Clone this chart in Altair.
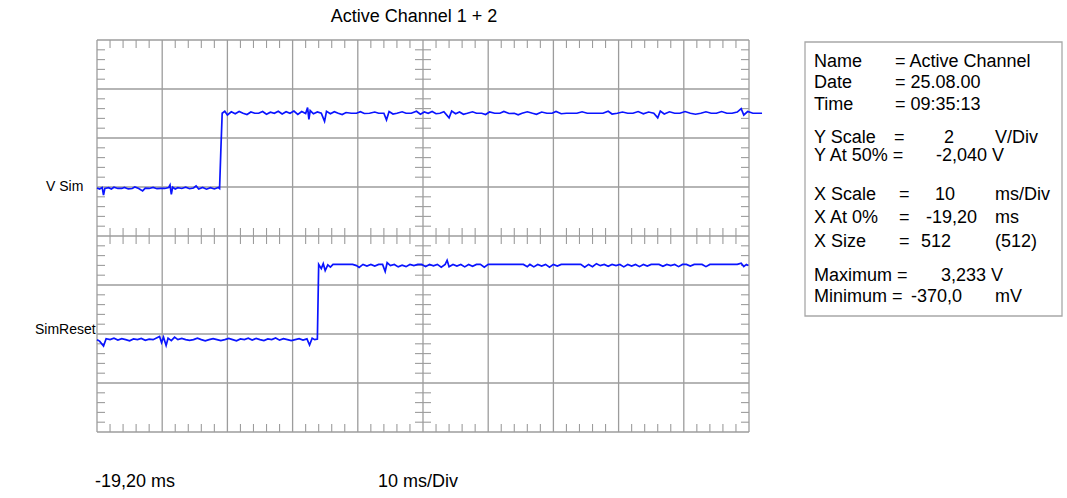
import altair as alt
import pandas as pd

# ---- scope settings -------------------------------------------------------
X_AT_0 = -19.2      # ms at left edge of screen
X_SCALE = 10.0      # ms / div
X_DIVS = 10
Y_SCALE = 2.0       # V / div
Y_DIVS = 8
MINOR = 5           # minor ticks per division

# volts shown at the screen centre line, per channel
channel_centre = {"V Sim": -2.04, "SimReset": 4.23}

# ---- channel 1: V Sim (time in ms, value in V) ------------------------------
t_vsim = [
    -19.2, -18.8, -18.4, -18.2, -18.0, -17.4, -17.0, -16.6, -16.0, -15.4,
    -15.0, -14.4, -13.8, -13.4, -12.8, -12.2, -11.8, -11.2, -10.6, -10.0,
    -9.4, -8.8, -8.2, -8.0, -7.8, -7.6, -7.2, -6.8, -6.2, -5.6,
    -5.0, -4.4, -4.0, -3.6, -3.0, -2.4, -1.8, -1.2, -0.6, -0.4,
    -0.2, 0.0, 0.4, 0.8, 1.4, 2.0, 2.6, 3.2, 3.8, 4.4,
    5.0, 5.6, 6.2, 6.8, 7.4, 8.0, 8.6, 9.2, 9.8, 10.4,
    11.0, 11.6, 12.2, 12.8, 13.1, 13.3, 13.5, 14.0, 14.6, 15.2,
    15.7, 16.0, 16.6, 17.2, 17.8, 18.4, 19.0, 19.8, 20.6, 21.2,
    21.8, 22.6, 23.4, 24.0, 24.8, 25.2, 25.6, 26.2, 26.8, 27.6,
    28.2, 29.0, 29.8, 30.4, 31.0, 31.6, 32.2, 32.8, 33.4, 34.0,
    34.8, 35.2, 35.8, 36.4, 37.0, 37.6, 38.4, 39.0, 39.8, 40.4,
    41.0, 41.8, 42.6, 43.2, 44.0, 44.8, 45.4, 46.0, 46.8, 47.6,
    48.2, 49.0, 49.8, 50.6, 51.2, 52.0, 52.8, 53.6, 54.4, 55.2,
    56.0, 56.8, 57.6, 58.4, 59.2, 59.8, 60.6, 61.4, 62.2, 63.0,
    63.8, 64.6, 65.4, 66.2, 66.8, 67.2, 67.8, 68.6, 69.4, 70.2,
    71.0, 71.8, 72.6, 73.4, 74.2, 75.0, 75.8, 76.6, 77.4, 78.2,
    79.0, 79.6, 80.0, 80.6, 81.4, 82.2, 82.8,
]
v_vsim = [
    -0.08, -0.12, -0.06, -0.37, -0.10, -0.07, -0.12, -0.05, -0.10, -0.10,
    -0.06, -0.12, -0.10, -0.04, -0.10, -0.20, -0.09, -0.10, -0.06, -0.11,
    -0.10, -0.10, -0.06, 0.04, -0.34, -0.05, -0.12, -0.07, -0.10, -0.05,
    -0.11, -0.08, 0.00, -0.12, -0.06, -0.13, -0.07, -0.12, -0.06, -0.10,
    1.49, 2.97, 3.05, 2.90, 3.03, 2.95, 3.04, 2.97, 2.92, 3.02,
    2.97, 2.97, 3.04, 2.93, 3.01, 2.97, 3.05, 2.94, 3.03, 2.97,
    3.06, 2.92, 3.04, 2.96, 3.20, 2.72, 3.08, 2.95, 3.02, 2.97,
    2.64, 3.05, 2.95, 3.03, 2.97, 2.92, 3.00, 2.97, 2.97, 3.03,
    2.96, 2.97, 3.02, 2.97, 2.97, 2.70, 3.04, 2.94, 2.97, 3.03,
    2.97, 2.97, 3.05, 2.93, 3.02, 2.97, 3.04, 2.95, 2.97, 3.03,
    2.78, 3.06, 2.95, 3.02, 2.93, 2.97, 3.03, 2.97, 2.97, 2.92,
    3.02, 2.97, 2.97, 3.04, 2.96, 2.97, 2.91, 2.97, 3.03, 2.97,
    2.93, 3.02, 2.97, 2.97, 3.04, 2.95, 2.97, 2.97, 2.97, 3.03,
    2.97, 2.97, 2.97, 2.97, 3.05, 2.94, 2.97, 3.02, 2.97, 2.97,
    3.04, 2.95, 3.02, 2.97, 2.78, 3.06, 2.94, 3.03, 2.97, 2.97,
    3.04, 2.97, 2.93, 2.97, 3.03, 2.97, 2.97, 3.04, 2.97, 2.97,
    3.02, 3.16, 2.90, 3.04, 2.97, 2.97, 2.97,
]

# ---- channel 2: SimReset (time in ms, value in V) ---------------------------
t_reset = [
    -19.2, -18.8, -18.2, -17.8, -17.2, -16.6, -16.0, -15.4, -14.8, -14.2,
    -13.6, -13.0, -12.4, -11.8, -11.2, -10.6, -10.0, -9.6, -9.3, -9.0,
    -8.6, -8.3, -7.8, -7.3, -6.8, -6.2, -5.6, -5.0, -4.4, -3.8,
    -3.2, -2.6, -2.0, -1.4, -0.8, -0.2, 0.4, 1.0, 1.6, 2.2,
    2.8, 3.4, 4.0, 4.6, 5.2, 5.8, 6.4, 7.0, 7.6, 8.2,
    8.8, 9.4, 10.0, 10.6, 11.2, 11.8, 12.4, 13.0, 13.4, 13.8,
    14.2, 14.6, 14.8, 15.2, 15.5, 15.8, 16.2, 16.6, 17.0, 17.6,
    18.2, 18.8, 19.4, 20.0, 20.6, 21.0, 21.6, 22.2, 22.8, 23.4,
    24.0, 24.6, 25.0, 25.3, 25.8, 26.4, 27.0, 27.6, 28.2, 28.8,
    29.4, 30.0, 30.6, 31.2, 31.8, 32.4, 33.0, 33.6, 34.2, 34.5,
    34.8, 35.4, 36.0, 36.6, 37.2, 37.8, 38.4, 39.0, 39.6, 40.2,
    40.8, 41.4, 42.0, 42.6, 43.2, 43.8, 44.4, 45.0, 45.6, 46.2,
    46.8, 47.2, 47.8, 48.4, 49.0, 49.6, 50.2, 50.8, 51.4, 52.0,
    52.6, 53.2, 53.8, 54.4, 55.0, 55.6, 56.2, 56.8, 57.4, 58.0,
    58.6, 59.2, 59.8, 60.4, 61.0, 61.6, 62.2, 62.8, 63.4, 64.0,
    64.6, 65.2, 65.8, 66.4, 67.0, 67.6, 68.2, 68.8, 69.4, 70.0,
    70.6, 71.2, 71.8, 72.4, 73.0, 73.6, 74.2, 74.8, 75.4, 76.0,
    76.6, 77.2, 77.8, 78.4, 79.0, 79.6, 80.0, 80.4, 80.7,
]
v_reset = [
    0.00, -0.06, -0.26, 0.04, 0.00, 0.06, -0.02, 0.04, 0.00, -0.05,
    0.03, 0.00, 0.05, -0.03, 0.02, 0.00, 0.08, 0.13, -0.12, 0.10,
    -0.24, 0.06, -0.04, 0.10, 0.00, 0.05, 0.00, -0.03, 0.00, 0.06,
    0.00, -0.05, 0.00, 0.04, 0.00, -0.04, 0.00, 0.05, 0.00, -0.05,
    0.03, 0.00, 0.06, -0.02, 0.05, 0.00, -0.04, 0.03, 0.00, 0.07,
    -0.02, 0.04, 0.00, -0.04, 0.00, 0.04, -0.02, 0.03, -0.22, 0.06,
    0.00, 0.02, 3.07, 2.90, 3.10, 2.82, 3.05, 2.96, 3.07, 3.07,
    3.07, 3.07, 3.07, 3.07, 3.02, 2.95, 3.07, 3.00, 3.07, 3.00,
    3.07, 3.07, 2.78, 3.14, 3.02, 3.07, 2.97, 3.04, 2.98, 3.07,
    3.02, 3.07, 3.07, 2.98, 3.07, 3.01, 3.07, 2.96, 3.07, 3.24,
    2.98, 3.07, 3.00, 3.07, 2.97, 3.07, 2.99, 3.07, 3.07, 2.96,
    3.07, 3.07, 3.07, 3.07, 3.07, 3.07, 3.07, 3.07, 3.07, 3.07,
    2.98, 3.07, 2.97, 3.07, 3.00, 3.07, 2.96, 3.07, 3.00, 3.07,
    3.07, 3.07, 3.07, 3.07, 3.07, 2.96, 3.07, 2.98, 3.10, 3.02,
    3.07, 2.99, 3.07, 3.02, 3.07, 2.97, 3.07, 3.00, 3.07, 2.98,
    3.07, 3.00, 3.07, 3.07, 3.07, 2.99, 3.07, 3.02, 3.07, 2.98,
    3.07, 3.07, 3.00, 3.07, 3.07, 3.07, 2.98, 3.07, 3.07, 3.07,
    3.07, 3.07, 3.07, 3.07, 3.07, 3.12, 2.98, 3.07, 3.03,
]

# ---- layout (page pixels) ---------------------------------------------------
ORIGIN_X, ORIGIN_Y = 97, 40
W, H = 652, 392
PAGE_W, PAGE_H = 1067, 498
GRID = "#9c9c9c"
TRACE = "#0a14ff"
FONT = "Liberation Sans"
FS = 18       # readout / title text
FS_CH = 14    # channel names

x_max = X_AT_0 + X_DIVS * X_SCALE
half = Y_DIVS / 2

# traces in screen divisions
rows = []
for name, ts, vs in (("V Sim", t_vsim, v_vsim), ("SimReset", t_reset, v_reset)):
    for t, v in zip(ts, vs):
        rows.append({"ch": name, "t": t, "v": v,
                     "div": (v - channel_centre[name]) / Y_SCALE})
traces = pd.DataFrame(rows)

xs = alt.Scale(domain=[X_AT_0, x_max], nice=False, zero=False)
ys = alt.Scale(domain=[-half, half], nice=False, zero=False)

# graticule: major lines
segs = []
for k in range(X_DIVS + 1):
    t = X_AT_0 + k * X_SCALE
    segs.append({"x": t, "x2": t, "y": -half, "y2": half})
for k in range(Y_DIVS + 1):
    d = -half + k
    segs.append({"x": X_AT_0, "x2": x_max, "y": d, "y2": d})
grid = pd.DataFrame(segs)

# graticule: minor tick rulers on the edges and the centre cross
tick_px = 8
ly = tick_px / (H / Y_DIVS)
lx = tick_px / (W / X_DIVS) * X_SCALE
x_mid = X_AT_0 + X_DIVS / 2 * X_SCALE
ticks = []
for j in range(1, X_DIVS * MINOR):
    if j % MINOR == 0:
        continue
    t = X_AT_0 + j * X_SCALE / MINOR
    ticks += [
        {"x": t, "x2": t, "y": half, "y2": half - ly},
        {"x": t, "x2": t, "y": -half, "y2": -half + ly},
        {"x": t, "x2": t, "y": -ly, "y2": ly},
    ]
for j in range(1, Y_DIVS * MINOR):
    if j % MINOR == 0:
        continue
    d = -half + j / MINOR
    ticks += [
        {"x": X_AT_0, "x2": X_AT_0 + lx, "y": d, "y2": d},
        {"x": x_max - lx, "x2": x_max, "y": d, "y2": d},
        {"x": x_mid - lx, "x2": x_mid + lx, "y": d, "y2": d},
    ]
ticks = pd.DataFrame(ticks)

def seg_enc():
    return dict(
        x=alt.X("x:Q", scale=xs, axis=None),
        x2="x2:Q",
        y=alt.Y("y:Q", scale=ys, axis=None),
        y2="y2:Q",
    )

grid_layer = alt.Chart(grid).mark_rule(color=GRID, strokeWidth=1.3).encode(**seg_enc())
tick_layer = alt.Chart(ticks).mark_rule(color=GRID, strokeWidth=1.1).encode(**seg_enc())

trace_layer = alt.Chart(traces).mark_line(
    color=TRACE, strokeWidth=1.7, interpolate="linear"
).encode(
    x=alt.X("t:Q", scale=xs, axis=None),
    y=alt.Y("div:Q", scale=ys, axis=None),
    detail="ch:N",
    order="t:Q",
)

# readout panel and labels, in page pixels: text, x, y, align, font size
labels = [
    ("Active Channel 1 + 2", 414, 17, "center", FS),
    ("V Sim", 46, 187, "left", FS_CH),
    ("SimReset", 35, 330, "left", FS_CH),
    ("-19,20 ms", 95, 482, "left", FS),
    ("10 ms/Div", 378, 482, "left", FS),
    ("Name", 814, 62, "left", FS), ("= Active Channel", 895, 62, "left", FS),
    ("Date", 814, 83, "left", FS), ("= 25.08.00", 895, 83, "left", FS),
    ("Time", 814, 105, "left", FS), ("= 09:35:13", 895, 105, "left", FS),
    ("Y Scale", 814, 138, "left", FS), ("=", 894, 138, "left", FS),
    ("2", 944, 138, "left", FS), ("V/Div", 995, 138, "left", FS),
    ("Y At 50% =", 814, 156, "left", FS), ("-2,040 V", 936, 156, "left", FS),
    ("X Scale", 814, 195, "left", FS), ("=", 899, 195, "left", FS),
    ("10", 935, 195, "left", FS), ("ms/Div", 995, 195, "left", FS),
    ("X At 0%", 814, 218, "left", FS), ("=", 899, 218, "left", FS),
    ("-19,20", 926, 218, "left", FS), ("ms", 995, 218, "left", FS),
    ("X Size", 814, 242, "left", FS), ("=", 899, 242, "left", FS),
    ("512", 921, 242, "left", FS), ("(512)", 995, 242, "left", FS),
    ("Maximum =", 814, 276, "left", FS), ("3,233 V", 941, 276, "left", FS),
    ("Minimum =", 814, 297, "left", FS), ("-370,0", 911, 297, "left", FS),
    ("mV", 995, 297, "left", FS),
]
lab = pd.DataFrame(
    [{"text": s, "px": x - ORIGIN_X, "py": y - ORIGIN_Y, "al": a, "fs": f}
     for s, x, y, a, f in labels]
)

def text_layer(align):
    return alt.Chart(lab[lab["al"] == align]).mark_text(
        align=align, baseline="middle", font=FONT, color="#000000"
    ).encode(
        x=alt.X("px:Q", scale=None, axis=None),
        y=alt.Y("py:Q", scale=None, axis=None),
        size=alt.Size("fs:Q", scale=None, legend=None),
        text="text:N",
    )

box = pd.DataFrame([{"px": 805 - ORIGIN_X, "px2": 1062 - ORIGIN_X,
                     "py": 42 - ORIGIN_Y, "py2": 316 - ORIGIN_Y}])
box_layer = alt.Chart(box).mark_rect(
    fill="#ffffff", stroke="#a8a8a8", strokeWidth=1.3
).encode(
    x=alt.X("px:Q", scale=None, axis=None),
    x2="px2:Q",
    y=alt.Y("py:Q", scale=None, axis=None),
    y2="py2:Q",
)

scope = alt.layer(grid_layer, tick_layer, trace_layer)
annot = alt.layer(box_layer, text_layer("left"), text_layer("center"))

chart = alt.layer(scope, annot).resolve_scale(
    x="independent", y="independent"
).properties(
    width=W,
    height=H,
    padding={"left": ORIGIN_X, "top": ORIGIN_Y,
             "right": PAGE_W - ORIGIN_X - W, "bottom": PAGE_H - ORIGIN_Y - H},
    autosize=alt.AutoSizeParams(type="none"),
    background="#ffffff",
).configure_view(stroke=None)

chart.save("out.html", embed_options={"renderer": "svg", "actions": False})
